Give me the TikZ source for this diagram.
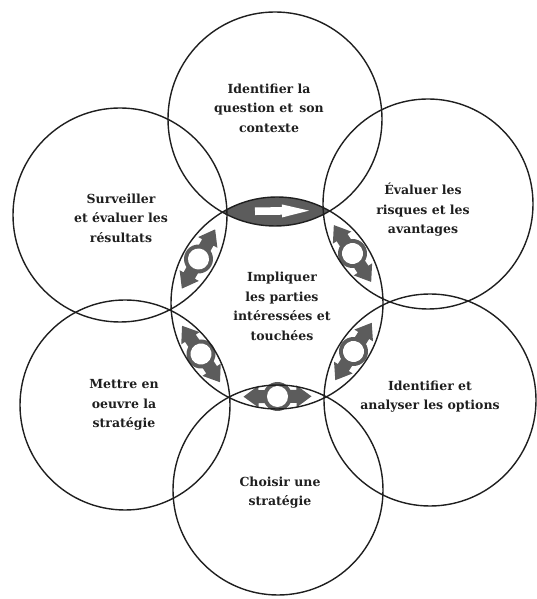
\documentclass[tikz,border=0pt]{standalone}
\usepackage{fontspec}
\setmainfont{DejaVu Serif}
\usetikzlibrary{calc}
\definecolor{ink}{gray}{0.12}
\definecolor{dither}{gray}{0.36}
\begin{document}
\begin{tikzpicture}[x=1pt,y=1pt,
  ring/.style={circle, draw=ink, line width=1.4pt, inner sep=0pt},
  caption/.style={align=center, text=ink, inner sep=0pt,
    font=\bfseries\fontsize{12.5}{19.5}\selectfont},
  swap arrow/.pic={
    % double-headed arrow with a hollow ring in the middle
    \fill[dither] (-34,0) -- (-19,11) -- (-19,6.5) -- (19,6.5) -- (19,11)
      -- (34,0) -- (19,-11) -- (19,-6.5) -- (-19,-6.5) -- (-19,-11) -- cycle;
    \fill[dither] (0,0) circle (14.5);
    \fill[white] (0,0) circle (10.5);
  },
  flow arrow/.pic={
    % white single arrow inside the shaded lens
    \fill[white] (-21,-3.8) -- (6,-3.8) -- (6,-6.5) -- (33,0) -- (6,6.5)
      -- (6,3.8) -- (-21,3.8) -- cycle;
  }]
\useasboundingbox (0,0) rectangle (536,599);

% centres of the seven circles
\coordinate (cC)  at (277,296);
\coordinate (cT)  at (275,480);
\coordinate (cUR) at (428,395);
\coordinate (cLR) at (430,199);
\coordinate (cB)  at (278,109);
\coordinate (cLL) at (125,194);
\coordinate (cUL) at (120,384);

% shaded lens between the centre and the top circle
\begin{scope}
  \clip (cC) circle (106);
  \fill[dither] (cT) circle (107);
\end{scope}

% two-way arrows in the other lenses
\pic[rotate=-56.7]  at ($(cC)!0.5!(cUR)$) {swap arrow};
\pic[rotate=-122.4] at ($(cC)!0.5!(cLR)$) {swap arrow};
\pic[rotate=0.3]    at ($(cC)!0.5!(cB)$)  {swap arrow};
\pic[rotate=123.9]  at ($(cC)!0.5!(cLL)$) {swap arrow};
\pic[rotate=60.7]   at ($(cC)!0.5!(cUL)$) {swap arrow};

% the circles
\node[ring, minimum size=212pt] (C)  at (cC)  {};
\node[ring, minimum size=214pt] (T)  at (cT)  {};
\node[ring, minimum size=210pt] (UR) at (cUR) {};
\node[ring, minimum size=212pt] (LR) at (cLR) {};
\node[ring, minimum size=210pt] (B)  at (cB)  {};
\node[ring, minimum size=210pt] (LL) at (cLL) {};
\node[ring, minimum size=214pt] (UL) at (cUL) {};

\pic[rotate=0.6] at ($(cC)!0.5!(cT)$) {flow arrow};

% labels
\node[caption] (tT)  at (269,491)   {Identifier la\\question et\enspace son\\contexte};
\node[caption] (tUR) at (423,389)   {Évaluer les\\risques et les\\avantages};
\node[caption] (tLR) at (430,202.5) {Identifier et\\analyser les options};
\node[caption] (tB)  at (280,106.5) {Choisir une\\stratégie};
\node[caption] (tLL) at (124,194)   {Mettre en\\oeuvre la\\stratégie};
\node[caption] (tUL) at (121,381)   {Surveiller\\et évaluer les\\résultats};
\node[caption] (tC)  at (282,292.5) {Impliquer\\les parties\\intéressées et\\touchées};
\end{tikzpicture}
\end{document}
